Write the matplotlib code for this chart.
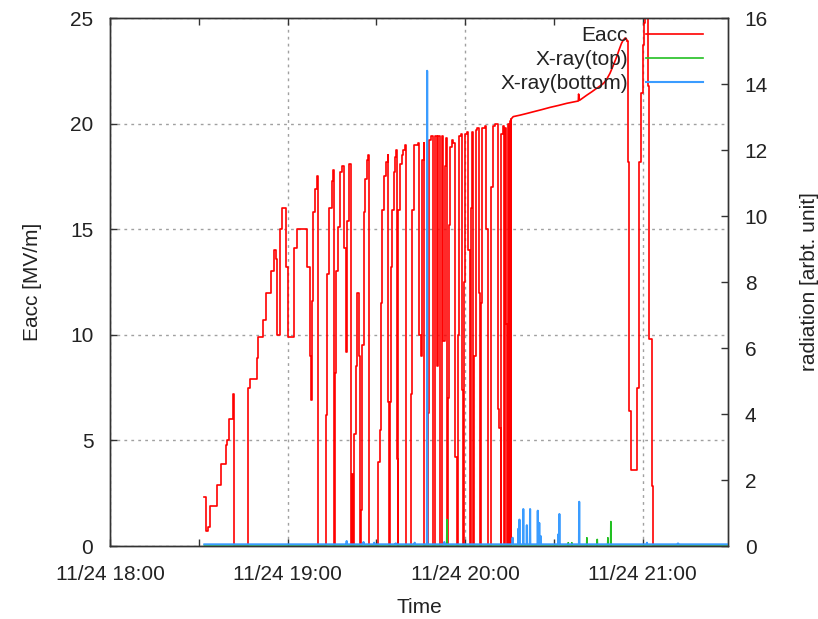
import numpy as np
import matplotlib.pyplot as plt
from matplotlib.ticker import MultipleLocator, FuncFormatter

# Eacc trace, minutes after 11/24 18:00 -> MV/m (each value holds until the next time)
eacc_t = [
    31.9, 32.5, 33.2, 33.8, 36.1, 37.5, 39.2, 39.7, 40.1, 41.6, 42.0,
    46.8, 47.3, 49.6, 50.1, 51.8, 52.6, 54.4, 55.5, 56.2, 56.6, 57.5, 58.3,
    59.4, 60.1, 62.2, 63.1, 66.7, 67.6, 67.9, 68.3, 68.7, 69.3, 70.0, 70.2,
    72.9, 73.4, 74.1, 74.9, 75.5, 75.8,
    76.0, 76.3, 77.2, 77.8, 78.3, 79.1, 79.7, 80.1, 80.9, 81.5,
    81.9, 82.3, 82.6, 83.0, 83.5, 84.0, 84.6,
    85.0, 85.3, 85.7, 86.3, 86.9, 87.3, 87.6,
    90.5, 91.3, 91.6, 92.0, 92.6, 93.2, 93.9, 94.1, 94.3,
    94.7, 94.9, 95.2, 95.9, 96.2, 96.7, 97.0, 97.2,
    97.3, 97.5, 98.0, 98.6, 99.2, 99.7, 100.0,
    101.8, 102.2, 102.9, 104.2, 104.5, 105.1, 105.4, 106.0, 106.3,
    107.6, 107.8, 108.5, 109.3, 109.7, 109.9, 110.4, 111.0, 111.6,
    112.1, 112.3, 112.7, 113.1, 113.5, 113.8,
    114.3, 114.6, 115.0, 115.6, 116.0, 116.5, 117.2,
    117.6, 117.9, 118.6, 118.9, 119.2,
    119.6, 120.0, 120.6, 121.0, 121.7,
    122.0, 122.4, 122.8,
    123.2, 123.6, 124.2, 124.7, 125.1,
    125.5, 125.9, 126.6, 127.2, 127.9,
    128.9, 129.3, 130.2, 131.1, 131.3, 131.6, 132.0,
    132.3, 132.7, 133.2, 133.5, 133.8, 134.1, 134.4, 134.7, 135.0,
    135.2, 135.4, 135.6,
]
eacc_v = [
    2.3, 0.7, 0.9, 1.9, 2.9, 3.9, 4.8, 5.0, 6.0, 7.2, 0.0,
    7.5, 7.9, 8.9, 9.9, 10.7, 12.0, 13.0, 14.0, 13.6, 10.0, 15.0, 16.0,
    13.2, 9.9, 14.1, 15.0, 13.2, 9.0, 6.9, 11.6, 15.8, 16.9, 17.5, 0.0,
    6.2, 12.9, 16.0, 17.3, 17.8, 0.0,
    8.2, 13.0, 15.1, 17.7, 18.0, 14.1, 9.2, 15.4, 18.1, 0.0,
    3.4, 0.0, 5.3, 8.5, 12.0, 9.0, 0.0,
    1.7, 9.5, 15.8, 17.4, 18.3, 18.5, 0.0,
    4.0, 5.5, 11.5, 15.9, 17.5, 18.2, 18.5, 6.8, 0.0,
    6.8, 13.2, 15.9, 17.7, 18.4, 18.75, 4.1, 0.0,
    4.1, 15.9, 18.1, 18.5, 18.75, 19.0, 0.0,
    7.2, 15.9, 19.0, 19.1, 10.0, 9.0, 18.3, 19.1, 0.0,
    6.3, 19.2, 19.4, 0.0, 13.0, 19.4, 8.5, 19.4, 0.0,
    6.0, 19.4, 9.7, 18.0, 19.3, 0.0,
    7.0, 15.2, 18.9, 19.2, 19.1, 4.2, 0.0,
    10.0, 19.4, 19.5, 7.4, 0.0,
    12.5, 19.5, 19.6, 14.0, 0.0,
    16.0, 19.6, 0.0,
    9.0, 19.7, 19.8, 12.0, 0.0,
    11.5, 19.8, 19.9, 15.0, 0.0,
    17.0, 19.9, 20.0, 17.3, 6.5, 5.6, 0.0,
    19.5, 19.9, 0.0, 19.8, 10.5, 0.0, 19.9, 20.0, 0.0,
    20.1, 0.0, 20.2,
]

# slow drift after the processing steps, drawn point to point
ramp_t = [135.6, 135.8, 136.3, 138.6, 140.9, 143.1, 145.9, 148.8, 151.6,
          154.4, 158.3, 158.4, 158.7, 161.2, 162.8, 164.5, 166.8, 167.9,
          169.0, 170.1, 171.3, 172.1, 172.9, 173.5, 174.1, 174.6, 174.9]
ramp_v = [20.2, 20.25, 20.33, 20.4, 20.48, 20.56, 20.66, 20.77, 20.86,
          20.96, 21.07, 21.4, 21.1, 21.35, 21.5, 21.67, 21.9, 22.1,
          22.38, 22.75, 23.17, 23.5, 23.8, 23.95, 24.05, 24.0, 23.9]

# last quench and final ramp (held values again)
tail_t = [174.9, 175.0, 175.5, 176.0, 178.2, 178.8, 179.5, 180.1, 180.5,
          181.0, 182.0, 182.3, 183.1, 183.4, 208.9]
tail_v = [23.9, 18.2, 6.4, 3.6, 7.5, 18.2, 21.45, 23.7, 24.75,
          25.6, 21.8, 9.8, 2.85, 0.0, 0.0]

# radiation counters: quiet level plus individual bursts
xray_start, xray_end = 31.9, 208.9
xray_bottom_base = 0.05
xray_bottom_spike_t = [80.0, 85.7, 89.3, 96.6, 103.0, 107.2, 113.0,
                       136.1, 138.0, 138.4, 139.7, 140.9, 142.0, 144.6,
                       145.1, 145.6, 151.6, 151.9, 158.6, 181.5, 192.0]
xray_bottom_spike_v = [0.15, 0.12, 0.1, 0.08, 0.1, 14.4, 0.12,
                       0.25, 0.52, 0.8, 1.12, 0.63, 1.12, 1.07,
                       0.7, 0.3, 0.36, 0.97, 1.34, 0.1, 0.08]
xray_top_base = 0.03
xray_top_spike_t = [113.9, 154.9, 156.1, 161.2, 164.7, 168.3, 169.3]
xray_top_spike_v = [0.8, 0.1, 0.1, 0.25, 0.2, 0.25, 0.74]

hour_ticks = [0, 60, 120, 180]


def burst_series(base, spike_t, spike_v, width=0.08):
    t = [xray_start]
    v = [base]
    for st, sv in zip(spike_t, spike_v):
        t += [st - width, st, st + width]
        v += [base, sv, base]
    t.append(xray_end)
    v.append(base)
    return np.array(t), np.array(v)


plt.rcParams['font.family'] = ['Liberation Sans', 'DejaVu Sans']
plt.rcParams['font.size'] = 15
text_col = '#222222'
red_col = '#ff0000'

fig = plt.figure(figsize=(8.18, 6.19), dpi=100)
ax = fig.add_axes([110 / 818, 1 - 546 / 619, 618 / 818, 528 / 619])
ax2 = ax.twinx()

red, = ax.plot(eacc_t, eacc_v, color=red_col, lw=1.2, drawstyle='steps-post',
               label='Eacc')
ax.plot(ramp_t, ramp_v, color=red_col, lw=1.2)
ax.plot(tail_t, tail_v, color=red_col, lw=1.2, drawstyle='steps-post')

bt, bv = burst_series(xray_bottom_base, xray_bottom_spike_t, xray_bottom_spike_v)
gt, gv = burst_series(xray_top_base, xray_top_spike_t, xray_top_spike_v)
green, = ax2.plot(gt, gv, color='#22c022', lw=1.2, label='X-ray(top)')
blue, = ax2.plot(bt, bv, color='#3a9cff', lw=1.5, label='X-ray(bottom)')

ax.set_xlim(0, 208.9)
ax.set_ylim(0, 25)
ax2.set_ylim(0, 16)

ax.xaxis.set_major_locator(plt.FixedLocator(hour_ticks))
ax.xaxis.set_minor_locator(MultipleLocator(30))
ax.xaxis.set_major_formatter(
    FuncFormatter(lambda m, _: f"11/24 {18 + int(m // 60)}:{int(m % 60):02d}"))
ax.yaxis.set_major_locator(MultipleLocator(5))
ax2.yaxis.set_major_locator(MultipleLocator(2))

ax.tick_params(which='both', direction='in', top=True, right=False,
               length=5, width=1, color='#333333', labelcolor=text_col)
ax.tick_params(axis='x', pad=14)
ax.tick_params(axis='y', pad=12)
ax2.tick_params(direction='in', length=5, width=1, color='#333333',
                labelcolor=text_col, pad=12)

ax.grid(True, which='major', color='#a0a0a0', lw=1.0, ls=(0, (2, 3)))
ax.set_axisbelow(True)
for a in (ax, ax2):
    for s in a.spines.values():
        s.set_color('#333333')
        s.set_linewidth(1.0)

ax.set_xlabel('Time', color=text_col, labelpad=10)
ax.set_ylabel('Eacc [MV/m]', color=text_col, labelpad=20)
ax2.set_ylabel('radiation [arbt. unit]', color=text_col, labelpad=23)

ax2.legend(handles=[red, green, blue], loc='upper right',
           bbox_to_anchor=(593 / 618, 0.984), frameon=False, markerfirst=False,
           handlelength=2.75, handletextpad=0.85, labelspacing=0.24,
           borderpad=0, borderaxespad=0, labelcolor=text_col)

fig.savefig('out.png', dpi=100)
